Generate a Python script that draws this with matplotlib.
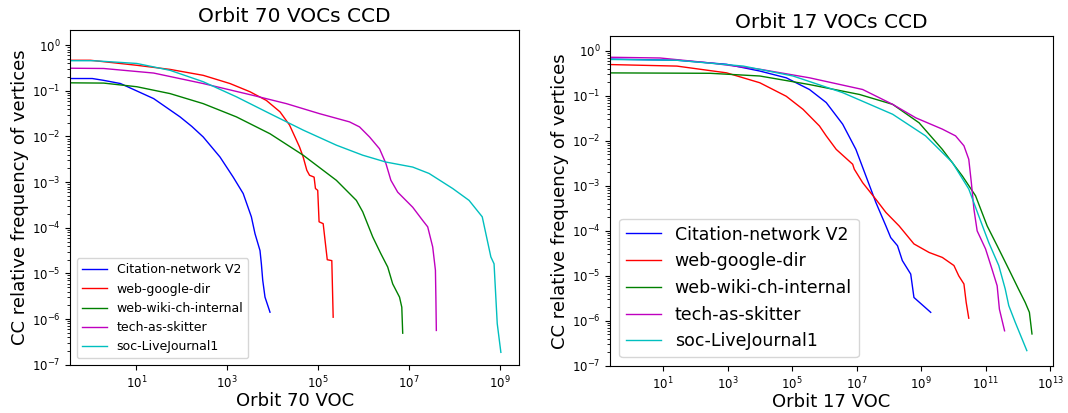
import numpy as np
import matplotlib
matplotlib.use("Agg")
import matplotlib.pyplot as plt
from matplotlib.ticker import FixedLocator, NullLocator

# dataset names and colours
nomes = ["Citation-network V2", "web-google-dir", "web-wiki-ch-internal",
         "tech-as-skitter", "soc-LiveJournal1"]
cores = ["b", "r", "g", "m", "c"]

# Orbit 70 -- values stored as log10(x), log10(y)
o70_cit_x = [-1, 0.03, 0.28, 0.65, 1.38, 1.67, 1.96, 2.22, 2.47, 2.84, 3.13, 3.35, 3.53, 3.61, 3.72, 3.75, 3.78, 3.83, 3.94]
o70_cit_y = [-0.73, -0.73, -0.77, -0.84, -1.17, -1.37, -1.57, -1.78, -2.01, -2.45, -2.89, -3.25, -3.76, -4.13, -4.50, -4.79, -5.15, -5.52, -5.85]

o70_goo_x = [-1, -0.01, 1.01, 1.74, 2.47, 3.06, 3.5, 3.86, 4.16, 4.37, 4.59, 4.67, 4.75, 4.81, 4.91, 4.94,
             4.99, 5.02, 5.11, 5.16, 5.2, 5.3, 5.33]
o70_goo_y = [-0.33, -0.33, -0.44, -0.53, -0.66, -0.84, -1.02, -1.21, -1.46, -1.75, -2.23, -2.45, -2.74, -2.85, -2.89, -3.14,
             -3.18, -3.87, -3.91, -4.35, -4.70, -4.72, -5.96]

o70_wiki_x = [-1, 0.28, 1.01, 1.74, 2.47, 3.2, 3.94, 4.67, 5.4, 5.84, 5.98, 6.2, 6.38, 6.53, 6.64, 6.79, 6.84, 6.86]
o70_wiki_y = [-0.82, -0.83, -0.91, -1.06, -1.28, -1.57, -1.94, -2.41, -2.96, -3.40, -3.65, -4.20, -4.57, -4.86, -5.23, -5.52, -5.74, -6.31]

o70_sk_x = [-1, 0.28, 1.38, 2.47, 3.57, 4.3, 5.03, 5.69, 5.91, 6.13, 6.35, 6.49, 6.6, 6.75, 7.08, 7.3, 7.41, 7.52, 7.58, 7.59, 7.6]
o70_sk_y = [-0.50, -0.51, -0.61, -0.84, -1.10, -1.28, -1.50, -1.68, -1.79, -2.01, -2.27, -2.59, -2.96, -3.22, -3.55, -3.84, -3.98, -4.42, -4.93, -5.52, -6.25]

o70_lj_x = [-1, 0.06, 1.01, 1.74, 2.47, 3.2, 3.94, 4.67, 5.4, 5.98, 6.49, 7.08, 7.44, 7.96, 8.32, 8.61, 8.69, 8.8, 8.87, 8.94, 9.02]
o70_lj_y = [-0.34, -0.34, -0.40, -0.55, -0.80, -1.13, -1.50, -1.86, -2.19, -2.41, -2.56, -2.67, -2.81, -3.14, -3.40, -3.76, -4.13, -4.64, -4.79, -6.10, -6.73]

# Orbit 17
o17_cit_x = [-1, 1.43, 2.97, 4.0, 4.82, 5.54, 6.06, 6.57, 6.98, 7.29, 7.6, 7.91, 8.06, 8.27, 8.42, 8.68, 8.78, 8.89, 9.3]
o17_cit_y = [-0.18, -0.21, -0.30, -0.45, -0.60, -0.86, -1.15, -1.63, -2.19, -2.78, -3.37, -3.89, -4.15, -4.33, -4.66, -4.96, -5.48, -5.55, -5.81]

o17_goo_x = [-1, 1.43, 2.97, 4.0, 4.82, 5.34, 5.85, 6.06, 6.37, 6.88, 6.93, 7.19, 7.6, 7.91, 8.32, 8.78, 9.25, 9.66,
             10.02, 10.17, 10.33, 10.4, 10.48]
o17_goo_y = [-0.30, -0.34, -0.49, -0.71, -1.01, -1.30, -1.67, -1.89, -2.19, -2.52, -2.63, -2.93, -3.30, -3.59, -3.89, -4.29, -4.48, -4.59,
             -4.77, -5.00, -5.18, -5.59, -5.94]

o17_wiki_x = [-1, 2.46, 4.0, 5.54, 7.09, 8.12, 8.94, 9.66, 10.28, 10.69, 11.05, 11.36, 11.72, 12.02, 12.23, 12.36, 12.44]
o17_wiki_y = [-0.49, -0.50, -0.56, -0.75, -0.97, -1.19, -1.60, -2.19, -2.78, -3.22, -3.89, -4.33, -4.85, -5.29, -5.59, -5.81, -6.29]

o17_sk_x = [-1, 0.91, 2.46, 4.0, 5.54, 7.19, 8.12, 8.84, 9.66, 10.07, 10.33, 10.48, 10.56, 10.64, 10.74, 11.0, 11.2, 11.36, 11.43, 11.59]
o17_sk_y = [-0.14, -0.16, -0.27, -0.41, -0.60, -0.86, -1.19, -1.49, -1.74, -1.89, -2.11, -2.41, -2.93, -3.52, -4.00, -4.40, -4.85, -5.22, -5.74, -6.22]

o17_lj_x = [-1, 1.43, 3.49, 5.03, 6.57, 8.12, 9.14, 9.97, 10.48, 10.79, 11.1, 11.41, 11.61, 11.72, 11.92, 12.28]
o17_lj_y = [-0.19, -0.21, -0.34, -0.56, -0.93, -1.41, -1.89, -2.48, -3.07, -3.67, -4.26, -4.77, -5.29, -5.66, -6.03, -6.66]

orb70 = [(o70_cit_x, o70_cit_y), (o70_goo_x, o70_goo_y), (o70_wiki_x, o70_wiki_y),
         (o70_sk_x, o70_sk_y), (o70_lj_x, o70_lj_y)]
orb17 = [(o17_cit_x, o17_cit_y), (o17_goo_x, o17_goo_y), (o17_wiki_x, o17_wiki_y),
         (o17_sk_x, o17_sk_y), (o17_lj_x, o17_lj_y)]

# tick positions
y_dec = list(range(-7, 1))
y_menores = [m * 10.0 ** d for d in range(-7, 0) for m in range(2, 10)]


def desenha(ax, series, orbita, xlim, xticks, legsize):
    for (lx, ly), nome, cor in zip(series, nomes, cores):
        ax.plot(10.0 ** np.array(lx), 10.0 ** np.array(ly), color=cor, lw=1.0, label=nome)
    ax.set_xscale("log")
    ax.set_yscale("log")
    ax.set_xlim(10 ** xlim[0], 10 ** xlim[1])
    ax.set_ylim(1e-7, 10 ** 0.33)
    ax.set_xticks([10.0 ** k for k in xticks])
    ax.xaxis.set_minor_locator(NullLocator())
    ax.set_yticks([10.0 ** k for k in y_dec])
    ax.yaxis.set_minor_locator(FixedLocator(y_menores))
    ax.tick_params(labelsize=8.5)
    ax.set_title(f"Orbit {orbita} VOCs CCD", fontsize=14.5)
    ax.set_xlabel(f"Orbit {orbita} VOC", fontsize=13, labelpad=0.5)
    ax.set_ylabel("CC relative frequency of vertices", fontsize=13, labelpad=2)
    ax.legend(loc="lower left", fontsize=legsize)


fig = plt.figure(figsize=(10.68, 4.13), dpi=100)
ax1 = fig.add_axes([0.066, 0.117, 0.420, 0.810])
ax2 = fig.add_axes([0.5716, 0.114, 0.414, 0.799])

desenha(ax1, orb70, 70, (-0.45, 9.42), [1, 3, 5, 7, 9], 9)
desenha(ax2, orb17, 17, (-0.63, 13.08), [1, 3, 5, 7, 9, 11, 13], 12.5)

fig.savefig("out.png", dpi=100)
